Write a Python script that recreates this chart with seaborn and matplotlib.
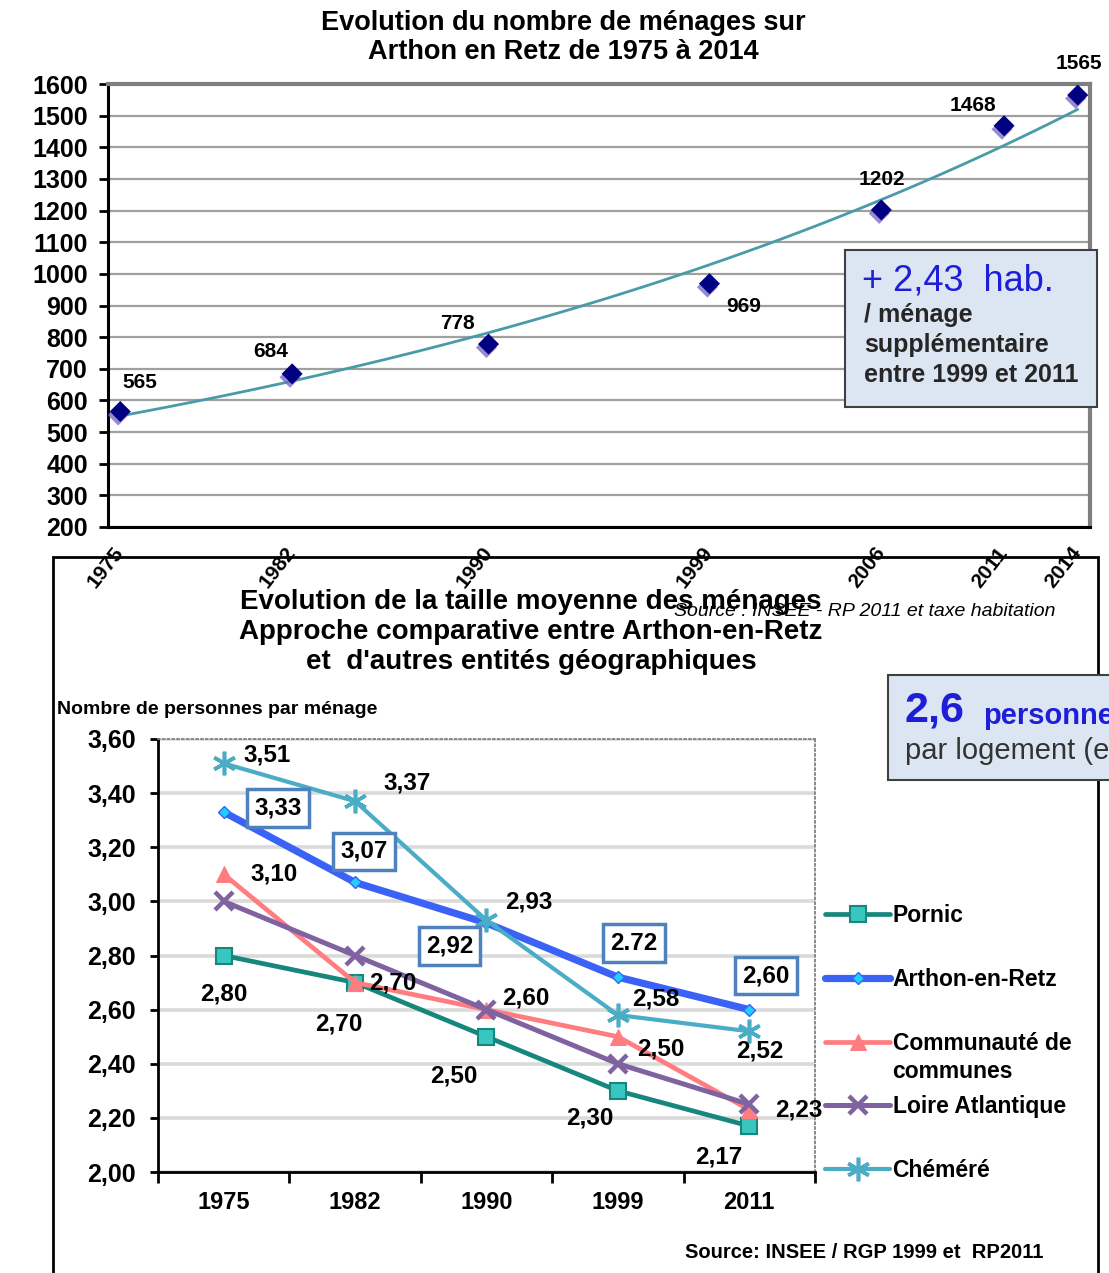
import numpy as np
import pandas as pd
import matplotlib
matplotlib.use("Agg")
import matplotlib.pyplot as plt
import matplotlib.patheffects as pe
from matplotlib.patches import Rectangle
import seaborn as sns

# ---- Households in Arthon-en-Retz, 1975-2014 ----
hh_years = [1975, 1982, 1990, 1999, 2006, 2011, 2014]
hh_counts = [565, 684, 778, 969, 1202, 1468, 1565]

# ---- Average household size ----
size_years = ["1975", "1982", "1990", "1999", "2011"]
pornic = [2.80, 2.70, 2.50, 2.30, 2.17]
arthon = [3.33, 3.07, 2.92, 2.72, 2.60]
comcom = [3.10, 2.70, 2.60, 2.50, 2.23]
loire = [3.00, 2.80, 2.60, 2.40, 2.25]
chemere = [3.51, 3.37, 2.93, 2.58, 2.52]
arthon_labels = ["3,33", "3,07", "2,92", "2.72", "2,60"]
size_ticks = [2.0, 2.2, 2.4, 2.6, 2.8, 3.0, 3.2, 3.4, 3.6]

sns.set_style("white")
plt.rcParams["font.family"] = ["Liberation Sans", "DejaVu Sans"]
for key in ("text.color", "axes.labelcolor", "xtick.color", "ytick.color"):
    plt.rcParams[key] = "black"

W, H = 1109, 1273
fig = plt.figure(figsize=(W / 100, H / 100), dpi=100)


def rect(l, t, r, b):
    return [l / W, 1 - b / H, (r - l) / W, (b - t) / H]


def fxy(px, py):
    return px / W, 1 - py / H


def fr(v):
    return f"{v:.2f}".replace(".", ",")


# =================== top chart: number of households ===================
ax1 = fig.add_axes(rect(108, 84, 1090, 527))
df_hh = pd.DataFrame({"year": hh_years, "households": hh_counts})

# exponential trend fitted on the counts
coef = np.polyfit(df_hh["year"], np.log(df_hh["households"]), 1)
tx = np.linspace(hh_years[0], hh_years[-1], 120)
trend = pd.DataFrame({"year": tx, "fit": np.exp(np.polyval(coef, tx))})
sns.lineplot(data=trend, x="year", y="fit", ax=ax1, color="#4A9BAA",
             linewidth=2.0, zorder=3)

sns.scatterplot(data=df_hh, x="year", y="households", ax=ax1, marker="D",
                s=115, color="#000080", edgecolor="none", zorder=4,
                path_effects=[pe.SimplePatchShadow(offset=(-1.5, -2.5),
                                                   shadow_rgbFace="#7563C8",
                                                   alpha=0.75),
                              pe.Normal()])

hh_offsets = [(20, 29), (-21, 22), (-31, 21), (34, -23), (1, 30), (-31, 20), (1, 32)]
for yr, v, (dx, dy) in zip(hh_years, hh_counts, hh_offsets):
    ax1.annotate(str(v), (yr, v), xytext=(dx * 0.72, dy * 0.72),
                 textcoords="offset points", ha="center", va="center",
                 fontsize=15, fontweight="bold", zorder=6)

ax1.set_xlim(1974.5, 2014.5)
ax1.set_ylim(200, 1600)
ax1.set_yticks(range(200, 1601, 100))
ax1.set_yticklabels([str(v) for v in range(200, 1601, 100)],
                    fontsize=18, fontweight="bold")
ax1.set_xticks(hh_years)
ax1.set_xticklabels([str(y) for y in hh_years], rotation=52, ha="right",
                    va="center", rotation_mode="anchor", fontsize=15,
                    fontweight="bold")
ax1.set_xticks(np.arange(1974.5, 2014.6, 1), minor=True)
ax1.tick_params(axis="x", which="major", length=0, pad=16)
ax1.tick_params(axis="x", which="minor", length=8, width=2, direction="out",
                color="black")
ax1.tick_params(axis="y", length=6.5, width=2, direction="out", pad=8,
                color="black", left=True)
ax1.grid(axis="y", color="#A0A0A0", linewidth=1.6)
ax1.set_axisbelow(True)
ax1.set_xlabel("")
ax1.set_ylabel("")
for s in ("left", "bottom"):
    ax1.spines[s].set_color("black")
    ax1.spines[s].set_linewidth(2.2)
for s in ("top", "right"):
    ax1.spines[s].set_color("#7F7F7F")
    ax1.spines[s].set_linewidth(3)

fig.text(*fxy(563, 23), "Evolution du nombre de ménages sur", ha="center",
         va="center", fontsize=19.5, fontweight="bold")
fig.text(*fxy(563, 52), "Arthon en Retz de 1975 à 2014", ha="center",
         va="center", fontsize=19.5, fontweight="bold")

# callout box
fig.add_artist(Rectangle(fxy(845, 407), (1097 - 845) / W, (407 - 250) / H,
                         transform=fig.transFigure, facecolor="#DCE6F2",
                         edgecolor="#404040", linewidth=1.5, zorder=5))
fig.text(*fxy(862, 281), "+ 2,43  hab.", ha="left", va="center",
         fontsize=26, color="#1E1ED8", zorder=6)
for ypix, line in [(315, "/ ménage"), (345, "supplémentaire"),
                   (375, "entre 1999 et 2011")]:
    fig.text(*fxy(864, ypix), line, ha="left", va="center", fontsize=18,
             fontweight="bold", color="#262626", zorder=6)

# =================== lower chart: household size ===================
fig.add_artist(Rectangle(fxy(53, 1300), (1098 - 53) / W, (1300 - 557) / H,
                         transform=fig.transFigure, facecolor="none",
                         edgecolor="black", linewidth=2, zorder=-1))

ax2 = fig.add_axes(rect(158, 739, 815, 1172))
series = [
    ("Pornic", pornic, dict(color="#17877D", marker="s", markersize=11,
                            markerfacecolor="#38C7C0", markeredgecolor="#17877D",
                            markeredgewidth=1.5, linewidth=3.4)),
    ("Arthon-en-Retz", arthon, dict(color="#3B62F6", marker="D", markersize=6.5,
                                    markerfacecolor="#1FD0FF",
                                    markeredgecolor="#3B62F6",
                                    markeredgewidth=1, linewidth=5.2)),
    ("Communauté de", comcom, dict(color="#FF7C80", marker="^", markersize=12,
                                   markerfacecolor="#FF7C80",
                                   markeredgecolor="#FF7C80", linewidth=3.4)),
    ("Loire Atlantique", loire, dict(color="#7F63A1", marker="x", markersize=13,
                                     markeredgecolor="#7F63A1",
                                     markeredgewidth=3.2, linewidth=3.6)),
    ("Chéméré", chemere, dict(color="#4BACC6", marker=(6, 2, 0), markersize=17,
                              markeredgecolor="#4BACC6",
                              markeredgewidth=2.6, linewidth=3.0)),
]
for name, vals, style in series:
    d = pd.DataFrame({"x": range(len(size_years)), "y": vals})
    sns.lineplot(data=d, x="x", y="y", ax=ax2, label=name, zorder=3, **style)

# value labels
lab_font = dict(fontsize=17.5, fontweight="bold", ha="center", va="center",
                zorder=7)


def put(vals, offs, texts=None, box=False):
    for i, (v, (dx, dy)) in enumerate(zip(vals, offs)):
        t = texts[i] if texts else fr(v)
        kw = dict(lab_font)
        if box:
            kw["bbox"] = dict(boxstyle="square,pad=0.3", fc="white",
                              ec="#4F81BD", lw=2.5)
        ax2.annotate(t, (i, v), xytext=(dx * 0.72, dy * 0.72),
                     textcoords="offset points", **kw)


put(chemere, [(43, 8), (52, 18), (42, 18), (38, 16), (11, -20)])
put(pornic, [(0, -39), (-16, -41), (-33, -39), (-28, -27), (-31, -31)])
put(comcom, [(50, 0), (38, 0), (39, 12), (43, -12), (50, 0)])
put(arthon, [(54, 4), (9, 31), (-37, -23), (16, 34), (17, 34)],
    texts=arthon_labels, box=True)

ax2.set_xlim(-0.5, 4.5)
ax2.set_ylim(2.0, 3.6)
ax2.set_yticks(size_ticks)
ax2.set_yticklabels([fr(v) for v in size_ticks], fontsize=18, fontweight="bold")
ax2.set_xticks(range(len(size_years)))
ax2.set_xticklabels(size_years, fontsize=17, fontweight="bold")
ax2.set_xticks(np.arange(-0.5, 4.6, 1), minor=True)
ax2.tick_params(axis="x", which="major", length=0, pad=14)
ax2.tick_params(axis="x", which="minor", length=8, width=2, direction="out",
                color="black", bottom=True)
ax2.tick_params(axis="y", length=6, width=2, direction="out", pad=10,
                color="black", left=True)
ax2.grid(axis="y", color="#DADADA", linewidth=2.6)
ax2.set_axisbelow(True)
ax2.set_xlabel("")
ax2.set_ylabel("")
for s in ("left", "bottom"):
    ax2.spines[s].set_color("black")
    ax2.spines[s].set_linewidth(2)
for s in ("top", "right"):
    ax2.spines[s].set_color("#808080")
    ax2.spines[s].set_linewidth(1.3)
    ax2.spines[s].set_linestyle(":")

handles, labels = ax2.get_legend_handles_labels()
ax2.legend(handles, labels, loc="upper left", bbox_to_anchor=fxy(825, 904),
           bbox_transform=fig.transFigure, frameon=False,
           prop={"size": 16.5, "weight": "bold"}, handlelength=2.85,
           handletextpad=0.1, labelspacing=1.78, borderpad=0,
           borderaxespad=0)
fig.text(*fxy(892, 1071), "communes", ha="left", va="center", fontsize=16.5,
         fontweight="bold")

fig.text(*fxy(57, 710), "Nombre de personnes par ménage", ha="left",
         va="center", fontsize=14, fontweight="bold")

fig.text(*fxy(1055, 611), "Source : INSEE - RP 2011 et taxe habitation",
         ha="right", va="center", fontsize=14, style="italic", zorder=3)
for ypix, line in [(602, "Evolution de la taille moyenne des ménages"),
                   (632, "Approche comparative entre Arthon-en-Retz"),
                   (662, "et  d'autres entités géographiques")]:
    fig.text(*fxy(531, ypix), line, ha="center", va="center", fontsize=20,
             fontweight="bold", zorder=4)

fig.text(*fxy(685, 1252), "Source: INSEE / RGP 1999 et  RP2011", ha="left",
         va="center", fontsize=14.5, fontweight="bold")

# household size callout, running past the right edge
fig.add_artist(Rectangle(fxy(888, 780), 240 / W, (780 - 675) / H,
                         transform=fig.transFigure, facecolor="#DCE6F2",
                         edgecolor="#404040", linewidth=1.5, zorder=5))
fig.text(*fxy(905, 711), "2,6", ha="left", va="center", fontsize=31,
         fontweight="bold", color="#1E1ED8", zorder=6)
fig.text(*fxy(983, 716), "personnes", ha="left", va="center", fontsize=21,
         fontweight="bold", color="#1E1ED8", zorder=6)
fig.text(*fxy(905, 751), "par logement (en 2011)", ha="left", va="center",
         fontsize=21, color="#333333", zorder=6)

fig.savefig("out.png", dpi=100)
